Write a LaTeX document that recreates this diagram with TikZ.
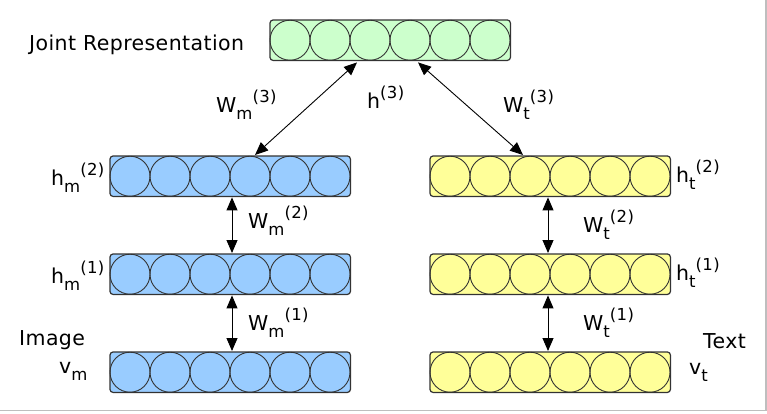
\documentclass[tikz,border=0pt]{standalone}
\usepackage{fontspec}
\setmainfont[LetterSpace=2]{DejaVu Sans}
\usetikzlibrary{arrows.meta,calc}
\definecolor{jgreen}{RGB}{204,255,204}
\definecolor{mblue}{RGB}{153,204,255}
\definecolor{tyellow}{RGB}{255,255,153}
\definecolor{edgecol}{RGB}{51,51,51}
\definecolor{framecol}{RGB}{190,190,190}
\tikzset{
  layerbox/.style={draw=none, minimum width=240pt, minimum height=40pt, inner sep=0pt, rounded corners=3pt, anchor=north west},
  unitcirc/.style={draw=edgecol, line width=0.9pt},
  layeredge/.style={draw=edgecol, line width=1.2pt, rounded corners=3pt},
  link/.style={{Triangle[length=13pt,width=11pt]}-{Triangle[length=13pt,width=11pt]}, line width=0.9pt},
  lab/.style={anchor=base west, inner sep=0pt, font=\fontsize{20.5}{24}\selectfont},
}
\newcommand{\smallsz}{\fontsize{16.5}{19}\selectfont}
\newcommand{\wlbl}[3]{#1\raisebox{-7.5pt}{\smallsz #2}\raisebox{10pt}{\smallsz #3}}
\newcommand{\suplbl}[2]{#1\raisebox{10pt}{\smallsz #2}}
\newcommand{\layerrow}[4]{%
  \node[layerbox, fill=#2] (#1) at (#3,#4) {};
  \foreach \i in {0,...,5} {\draw[unitcirc] ($(#1.west)+(20+40*\i,0)$) circle (20pt);}
  \draw[layeredge] (#1.north west) rectangle (#1.south east);
}
\begin{document}
\begin{tikzpicture}[x=1pt,y=-1pt]
\useasboundingbox (0,0) rectangle (767,413);
\draw[framecol, line width=1.2pt] (766,0) -- (766,410.5) -- (0,410.5);

\layerrow{J}{jgreen}{270}{20}
\layerrow{M2}{mblue}{110}{156}
\layerrow{M1}{mblue}{110}{254}
\layerrow{VM}{mblue}{110}{352}
\layerrow{T2}{tyellow}{430}{156}
\layerrow{T1}{tyellow}{430}{254}
\layerrow{VT}{tyellow}{430}{352}

\draw[link] ([xshift=87pt,yshift=-2pt]J.south west) -- ([xshift=145pt,yshift=1pt]M2.north west);
\draw[link] ([xshift=148pt,yshift=-2pt]J.south west) -- ([xshift=93pt,yshift=1pt]T2.north west);
\draw[link] ([xshift=122pt,yshift=-1pt]M2.south west) -- ([xshift=122pt,yshift=1pt]M1.north west);
\draw[link] ([xshift=122pt,yshift=-1pt]M1.south west) -- ([xshift=122pt,yshift=1pt]VM.north west);
\draw[link] ([xshift=118pt,yshift=-1pt]T2.south west) -- ([xshift=118pt,yshift=1pt]T1.north west);
\draw[link] ([xshift=118pt,yshift=-1pt]T1.south west) -- ([xshift=118pt,yshift=1pt]VT.north west);

\node[lab] (jr) at (29,50) {Joint Representation};
\node[lab] (wm3) at (216,112) {\wlbl{W}{m}{(3)}};
\node[lab] (h3) at (367,108) {\suplbl{h}{(3)}};
\node[lab] (wt3) at (503,112) {\wlbl{W}{t}{(3)}};
\node[lab] (hm2) at (51,185) {\wlbl{h}{m}{(2)}};
\node[lab] (wm2) at (248,228) {\wlbl{W}{m}{(2)}};
\node[lab] (hm1) at (51,283) {\wlbl{h}{m}{(1)}};
\node[lab] (wm1) at (248,330) {\wlbl{W}{m}{(1)}};
\node[lab] (img) at (19,345) {Image};
\node[lab] (vm) at (59,373) {\wlbl{v}{m}{}};
\node[lab] (wt2) at (583,232) {\wlbl{W}{t}{(2)}};
\node[lab] (ht2) at (676,182) {\wlbl{h}{t}{(2)}};
\node[lab] (ht1) at (676,280) {\wlbl{h}{t}{(1)}};
\node[lab] (wt1) at (583,330) {\wlbl{W}{t}{(1)}};
\node[lab] (txt) at (703,348) {Text};
\node[lab] (vt) at (689,374) {\wlbl{v}{t}{}};
\end{tikzpicture}
\end{document}
